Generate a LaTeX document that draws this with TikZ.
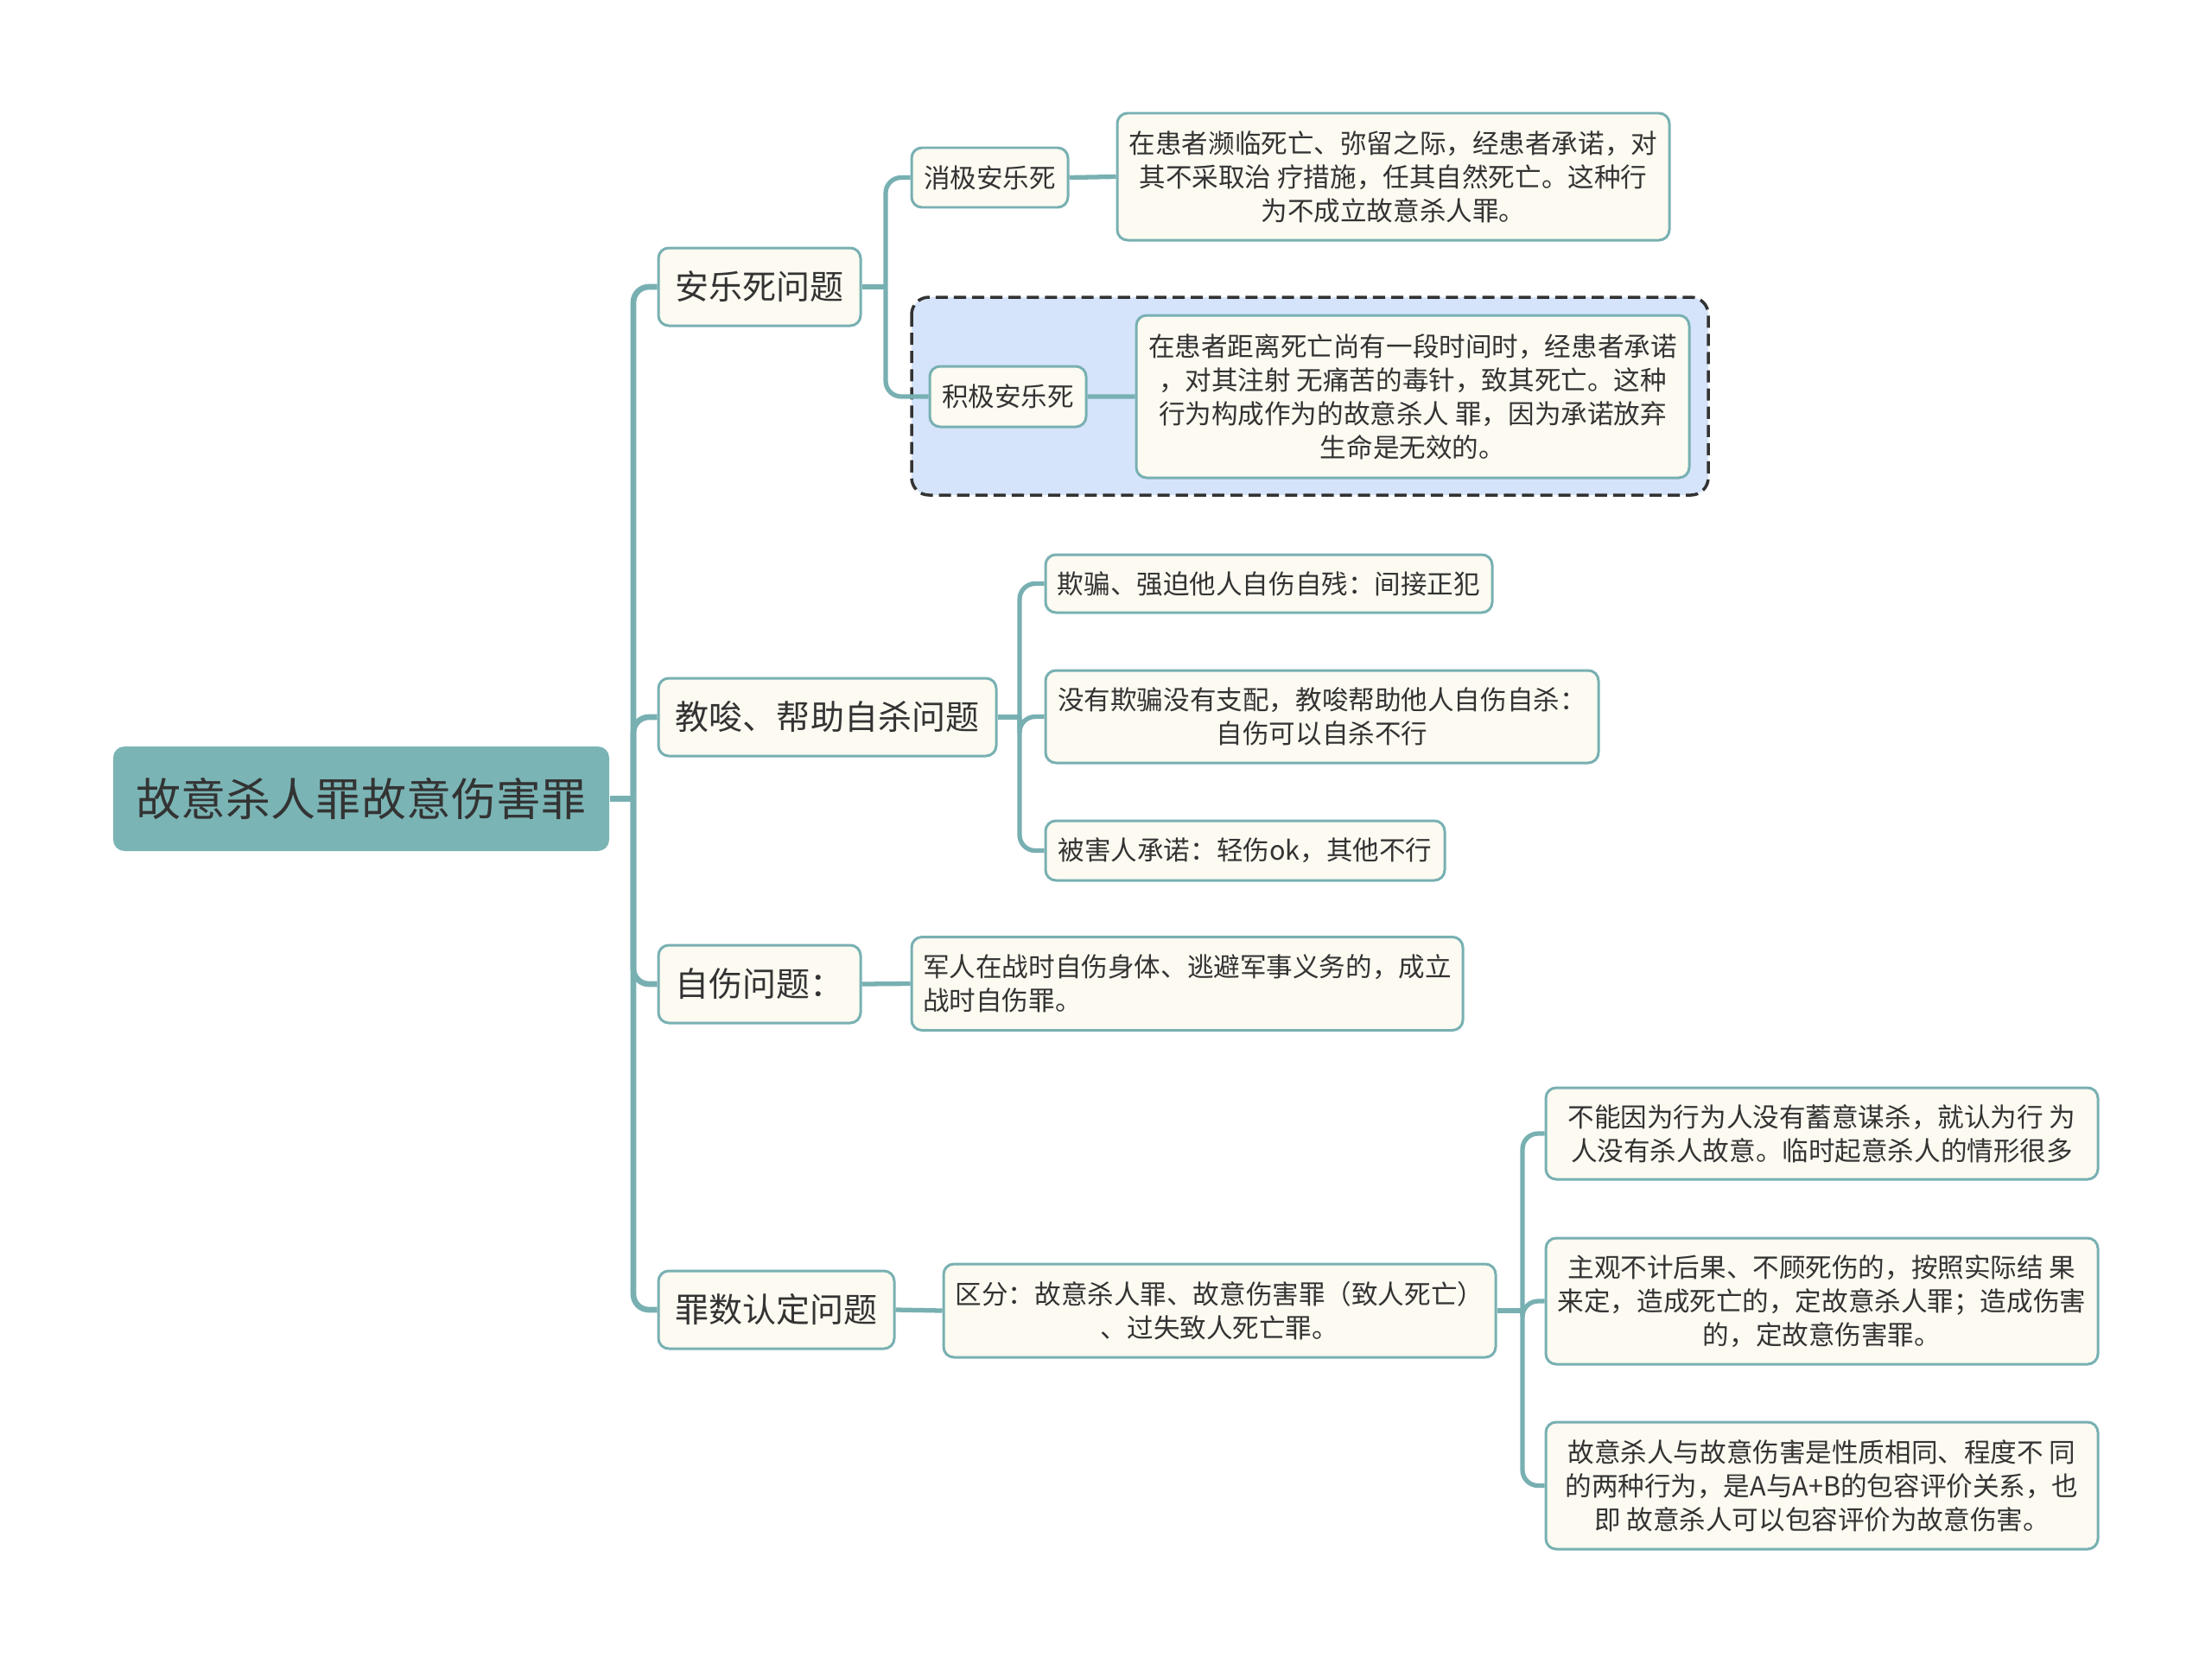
\documentclass[tikz,border=0pt]{standalone}
\usepackage{fontspec}
\setmainfont{Noto Sans CJK SC}
\usepackage{xcolor}
\usepackage{tikz}
\usetikzlibrary{arrows.meta}

\definecolor{mapline}{HTML}{78B0B2}
\definecolor{rootfill}{HTML}{7BB4B5}
\definecolor{boxfill}{HTML}{FCFAF1}
\definecolor{regionfill}{HTML}{D5E4FB}
\definecolor{inkgray}{HTML}{333333}

\begin{document}
\begin{tikzpicture}[
  link/.style={draw=mapline,line width=1.5pt,rounded corners=0.18cm},
  trunklink/.style={link,line width=1.9pt},
  rootbox/.style={fill=rootfill,rounded corners=0.13cm,inner sep=0pt,minimum width=5.74cm,minimum height=1.21cm,text=inkgray,font=\fontsize{14.8}{18}\selectfont},
  topic/.style={draw=mapline,fill=boxfill,line width=0.85pt,rounded corners=0.12cm,inner sep=0pt,minimum height=0.9cm,text=inkgray,font=\fontsize{11.1}{14}\selectfont},
  leaf/.style={draw=mapline,fill=boxfill,line width=0.85pt,rounded corners=0.12cm,inner sep=0pt,align=center,text=inkgray,font=\fontsize{8.7}{11.1}\selectfont},
  region/.style={draw=inkgray,fill=regionfill,line width=1pt,dash pattern=on 4pt off 2pt,rounded corners=0.2cm}]
\useasboundingbox (0,0) rectangle (25.6,-19.25);
%% highlighted area behind active euthanasia
\draw[region](10.55,-3.44) rectangle (19.77,-5.73);
%% root and first level
\node[rootbox] (root) at (4.18,-9.245) {故意杀人罪故意伤害罪};
\node[topic,minimum width=2.34cm] (euth) at (8.79,-3.32) {安乐死问题};
\node[topic,minimum width=3.91cm] (abet) at (9.575,-8.30) {教唆、帮助自杀问题};
\node[topic,minimum width=2.34cm] (selfharm) at (8.79,-11.39) {自伤问题：};
\node[topic,minimum width=2.73cm] (count) at (8.985,-15.16) {罪数认定问题};
%% euthanasia
\node[leaf,minimum width=1.81cm,minimum height=0.69cm] (passive) at (11.455,-2.055) {消极安乐死};
\node[leaf,minimum width=6.39cm,minimum height=1.47cm] (passivetext) at (16.125,-2.045)
  {在患者濒临死亡、弥留之际，经患者承诺，对\\其不采取治 疗措施，任其自然死亡。这种行\\为不成立故意杀人罪。};
\node[leaf,minimum width=1.81cm,minimum height=0.70cm] (active) at (11.665,-4.59) {积极安乐死};
\node[leaf,minimum width=6.40cm,minimum height=1.88cm] (activetext) at (16.35,-4.59)
  {在患者距离死亡尚有一段时间时，经患者承诺\\，对其注射 无痛苦的毒针，致其死亡。这种\\行为构成作为的故意杀人 罪，因为承诺放弃\\生命是无效的。};
%% abetting suicide
\node[leaf,minimum width=5.17cm,minimum height=0.67cm] (deceive) at (14.685,-6.755) {欺骗、强迫他人自伤自残：间接正犯};
\node[leaf,minimum width=6.40cm,minimum height=1.07cm] (nocontrol) at (15.30,-8.295)
  {没有欺骗没有支配，教唆帮助他人自伤自杀：\\自伤可以自杀不行};
\node[leaf,minimum width=4.62cm,minimum height=0.69cm] (consent) at (14.41,-9.845) {被害人承诺：轻伤ok，其他不行};
%% self harm
\node[leaf,align=left,minimum width=6.38cm,minimum height=1.08cm] (soldier) at (13.74,-11.385)
  {军人在战时自伤身体、逃避军事义务的，成立\\战时自伤罪。};
%% counting offences
\node[leaf,minimum width=6.39cm,minimum height=1.08cm] (distinguish) at (14.115,-15.17)
  {区分：故意杀人罪、故意伤害罪（致人死亡）\\、过失致人死亡罪。};
\node[leaf,minimum width=6.39cm,minimum height=1.06cm] (intent) at (21.085,-13.12)
  {不能因为行为人没有蓄意谋杀，就认为行 为\\人没有杀人故意。临时起意杀人的情形很多};
\node[leaf,minimum width=6.39cm,minimum height=1.46cm] (result) at (21.085,-15.06)
  {主观不计后果、不顾死伤的，按照实际结 果\\来定，造成死亡的，定故意杀人罪；造成伤害\\的，定故意伤害罪。};
\node[leaf,minimum width=6.39cm,minimum height=1.47cm] (include) at (21.085,-17.195)
  {故意杀人与故意伤害是性质相同、程度不 同\\的两种行为，是A与A+B的包容评价关系，也\\即 故意杀人可以包容评价为故意伤害。};
%% connectors
\coordinate (trunk) at (7.33,-9.245);
\coordinate (euthfork) at (10.25,-3.32);
\coordinate (abetfork) at (11.80,-8.30);
\coordinate (countfork) at (17.62,-15.17);
\draw[trunklink](root.east)--(trunk);
\foreach \t in {euth,abet,selfharm,count}
  \draw[trunklink](trunk)|-(\t.west);
\draw[link](euth.east)--(euthfork);
\foreach \t in {passive,active}
  \draw[link](euthfork)|-(\t.west);
\draw[link](passive.east)--(passivetext.west)
(active.east)--(activetext.west);
\draw[link](abet.east)--(abetfork);
\foreach \t in {deceive,nocontrol,consent}
  \draw[link](abetfork)|-(\t.west);
\draw[link](selfharm.east)--(soldier.west);
\draw[link](count.east)--(distinguish.west);
\draw[link](distinguish.east)--(countfork);
\foreach \t in {intent,result,include}
  \draw[link](countfork)|-(\t.west);
\end{tikzpicture}
\end{document}
